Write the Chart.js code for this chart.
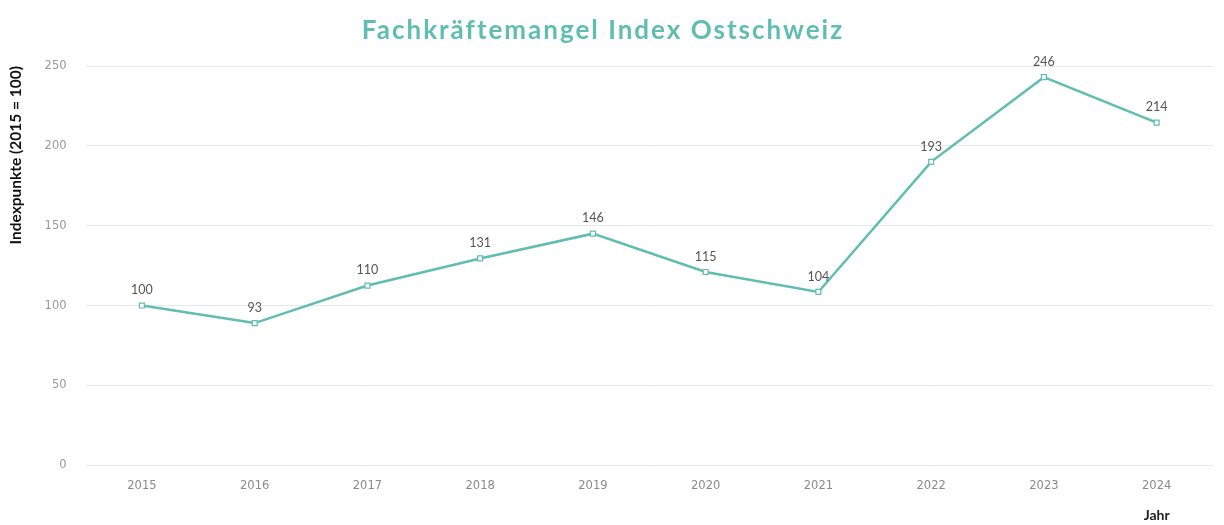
<!DOCTYPE html>
<html>
<head>
<meta charset="utf-8">
<script src="https://cdn.jsdelivr.net/npm/chart.js@4"></script>
<style>
  html, body { margin: 0; padding: 0; background: #fff; }
  #wrap { width: 1224px; height: 525px; }
</style>
</head>
<body>
<div id="wrap"><canvas id="chart" width="1224" height="525"></canvas></div>
<script>
// values
const years = ['2015', '2016', '2017', '2018', '2019', '2020', '2021', '2022', '2023', '2024'];
// plotted positions of the points
const indexValues = [100, 89, 112.5, 129.5, 145, 121, 108.5, 190, 243, 214.5];
// printed labels above the points
const pointLabels = ['100', '93', '110', '131', '146', '115', '104', '193', '246', '214'];
const yTicks = [0, 50, 100, 150, 200, 250];

const teal = '#5fbdb1';
const chartTitle = 'Fachkräftemangel Index Ostschweiz';

// title, labels over each point, "Jahr" under the last category
const labelPlugin = {
  id: 'labels',
  afterDatasetsDraw(chart) {
    const ctx = chart.ctx;
    const meta = chart.getDatasetMeta(0);
    ctx.save();
    ctx.font = '12.5px Lato';
    ctx.fillStyle = '#555';
    ctx.textAlign = 'center';
    ctx.textBaseline = 'bottom';
    meta.data.forEach((pt, i) => {
      ctx.fillText(pointLabels[i], pt.x, pt.y - 9);
    });

    const xs = chart.scales.x;
    ctx.font = 'bold 14px Lato';
    ctx.fillStyle = '#222';
    ctx.textBaseline = 'middle';
    ctx.fillText('Jahr', xs.getPixelForValue(years.length - 1), 515);

    ctx.font = 'bold 26px Lato';
    ctx.letterSpacing = '2px';
    ctx.fillStyle = teal;
    ctx.fillText(chartTitle, chart.width / 2 - 9, 31);
    ctx.restore();
  }
};

new Chart(document.getElementById('chart'), {
  type: 'line',
  data: {
    labels: years,
    datasets: [{
      data: indexValues,
      borderColor: teal,
      borderWidth: 2.5,
      pointStyle: 'rect',
      pointRadius: 3.5,
      pointBackgroundColor: '#fff',
      pointBorderColor: teal,
      pointBorderWidth: 1.2,
      tension: 0
    }]
  },
  options: {
    responsive: false,
    animation: false,
    layout: { padding: { left: 7, right: 11, top: 66, bottom: 26 } },
    plugins: {
      legend: { display: false },
      tooltip: { enabled: false },
      title: { display: false }
    },
    scales: {
      x: {
        offset: true,
        grid: { display: false },
        border: { display: false },
        ticks: { color: '#8a8a8a', font: { family: 'DejaVu Sans', size: 11.5 }, padding: 6 }
      },
      y: {
        min: 0,
        max: 250,
        afterBuildTicks(scale) { scale.ticks = yTicks.map(v => ({ value: v })); },
        grid: { color: '#e8e8e8', drawTicks: false },
        border: { display: false },
        ticks: { color: '#999', font: { family: 'DejaVu Sans', size: 11.5 }, padding: 19 },
        title: {
          display: true,
          align: 'end',
          text: 'Indexpunkte (2015 = 100)',
          color: '#111',
          font: { family: 'Lato', size: 15.5, weight: 'bold' },
          padding: { top: 0, bottom: 0 }
        }
      }
    }
  },
  plugins: [labelPlugin]
});
</script>
</body>
</html>
